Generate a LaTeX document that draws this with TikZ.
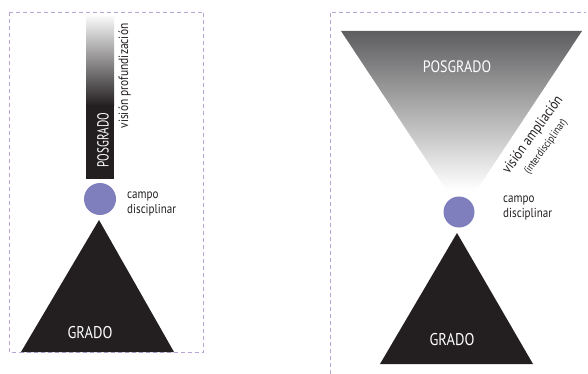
\documentclass[tikz,border=0pt]{standalone}
\usepackage{fontspec}
\setmainfont[FakeStretch=0.85]{PT Sans}
\definecolor{framecol}{HTML}{B9A6D6}
\definecolor{disccol}{HTML}{7F7FBE}
\definecolor{inkcol}{HTML}{231F20}
\definecolor{funnelcol}{HTML}{5E5E60}
\begin{document}
\begin{tikzpicture}[x=1pt,y=-1pt,
  frame/.style={draw=framecol, line width=0.9pt, dash pattern=on 4pt off 3pt},
  disc/.style={circle, fill=disccol, inner sep=0pt},
  pyramid/.style={fill=inkcol},
  caption/.style={font=\fontsize{13}{15}\selectfont, text=inkcol, align=left, anchor=base west, inner sep=0pt},
  levelw/.style={font=\fontsize{17}{20}\selectfont, text=white, inner sep=0pt},
  sidenote/.style={font=\fontsize{13.5}{16}\selectfont, text=inkcol, inner sep=0pt}]
\useasboundingbox (0,0) rectangle (588,374);

% panel frames
\draw[frame] (9.5,12) rectangle (203,352);
\draw[frame] (330,374) -- (330,12) -- (586,12);

% ---- left panel: depth view ----
\shade[top color=gray!6, bottom color=inkcol] (86,17) rectangle (114,106);
\fill[inkcol] (86,105) rectangle (114,179);
\node[levelw, rotate=90, font=\fontsize{16}{18}\selectfont] (pgL) at (103,140) {\scalebox{0.82}[1]{POSGRADO}};
\node[sidenote, rotate=90] (vp) at (124.5,76) {visión profundización};

\node[disc, minimum size=32pt] (cL) at (100,199) {};
\node[caption] (tL) at (127,213) {campo\\disciplinar};

\fill[pyramid] (99,220) -- (21,352) -- (174,352) -- cycle;
\node[levelw] (gL) at (90,333) {GRADO};

% ---- right panel: interdisciplinary view ----
\begin{scope}
  \clip (341,31) -- (582,31) -- (461.5,213) -- cycle;
  \shade[top color=funnelcol, bottom color=white] (341,31) rectangle (582,190);
\end{scope}
\node[levelw, font=\fontsize{16.5}{19}\selectfont] (pgR) at (457,67) {POSGRADO};
\node[sidenote, rotate=54, font=\fontsize{14.5}{17}\selectfont] (va) at (533,135) {visión ampliación};
\node[sidenote, rotate=54, font=\fontsize{11}{13}\selectfont] (vi) at (546,147) {(interdisciplinar)};

\node[disc, minimum size=31pt] (cR) at (459,212) {};
\node[caption] (tR) at (503,217) {campo\\disciplinar};

\fill[pyramid] (457,233) -- (380,364) -- (533,364) -- cycle;
\node[levelw] (gR) at (452,340) {GRADO};
\end{tikzpicture}
\end{document}
